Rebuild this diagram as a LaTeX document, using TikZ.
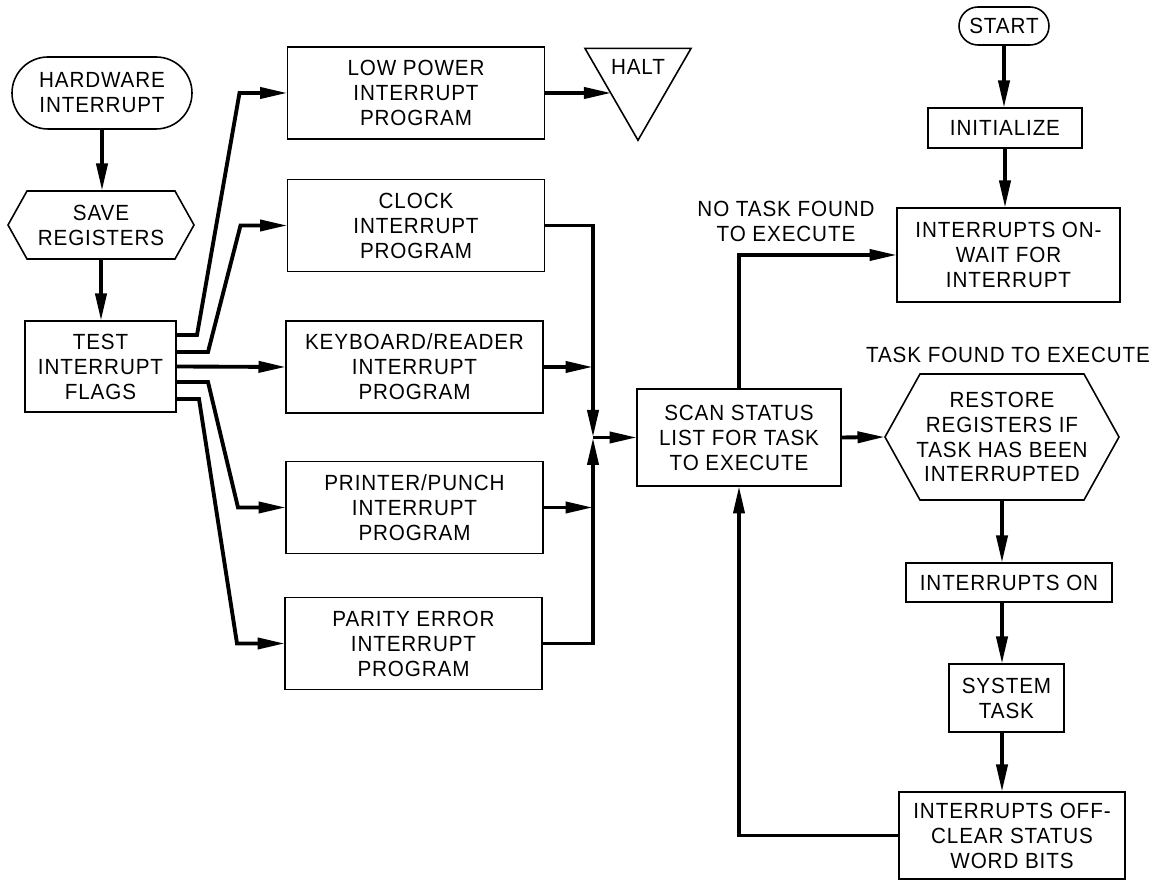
\documentclass[tikz,border=0pt]{standalone}
\usepackage{fontspec}
\setmainfont{Liberation Sans}[LetterSpace=4, FakeStretch=0.94]
\usepackage{tikz}
\usetikzlibrary{shapes.geometric, arrows.meta, positioning}

\newcommand{\chartfont}{\fontsize{12.5}{14.2}\selectfont}

\begin{document}
\begin{tikzpicture}[
    proc/.style={rectangle, draw, line width=0.9pt, align=center, inner sep=0pt, outer sep=0pt, font=\chartfont},
    term/.style={proc},
    prep/.style={rectangle, align=center, inner sep=0pt, outer sep=0pt, font=\chartfont},
    prog/.style={proc, minimum width=5.14cm, minimum height=1.84cm},
    note/.style={align=center, font=\chartfont},
    flow/.style={-{Triangle[length=0.55cm, width=0.22cm]}, line width=2.2pt},
]
\useasboundingbox (0,0) rectangle (23.28,17.64);

% Interrupt entry
\node[term, rounded corners=0.72cm, minimum width=3.6cm, minimum height=1.44cm] (hwint) at (2.04, 15.78) {HARDWARE\\INTERRUPT};
\node[prep, minimum width=3.72cm, minimum height=1.36cm] (savereg) at (2.02, 13.14) {SAVE\\REGISTERS};
\draw[line width=0.9pt] ([xshift=0.38cm]savereg.north west) -- ([xshift=-0.38cm]savereg.north east) -- (savereg.east)
    -- ([xshift=-0.38cm]savereg.south east) -- ([xshift=0.38cm]savereg.south west) -- (savereg.west) -- cycle;
\node[proc, minimum width=3.02cm, minimum height=1.82cm] (testflags) at (2.01, 10.31) {TEST\\INTERRUPT\\FLAGS};

% Interrupt programs
\node[prog] (lowpower) at (8.32, 15.78) {LOW POWER\\INTERRUPT\\PROGRAM};
\node[prog] (clock) at (8.32, 13.13) {CLOCK\\INTERRUPT\\PROGRAM};
\node[prog] (keyread) at (8.29, 10.30) {KEYBOARD/READER\\INTERRUPT\\PROGRAM};
\node[prog] (prtpunch) at (8.29, 7.49) {PRINTER/PUNCH\\INTERRUPT\\PROGRAM};
\node[prog] (parity) at (8.27, 4.77) {PARITY ERROR\\INTERRUPT\\PROGRAM};

% Halt
\node[regular polygon, regular polygon sides=3, shape border rotate=180, draw, line width=0.9pt,
    minimum size=2.45cm, inner sep=0pt, outer sep=0pt] (halt) at (12.76, 16.06) {};
\node[note] (halttext) at ([yshift=0.24cm]halt.center) {HALT};

% Scheduler
\coordinate (merge) at (11.86, 8.89);
\node[proc, minimum width=4.08cm, minimum height=1.94cm] (scan) at (14.78, 8.89) {SCAN STATUS\\LIST FOR TASK\\TO EXECUTE};

% Start-up column
\node[term, rounded corners=0.38cm, minimum width=1.8cm, minimum height=0.76cm] (start) at (20.08, 17.12) {START};
\node[proc, minimum width=3.08cm, minimum height=0.8cm] (init) at (20.10, 15.08) {INITIALIZE};
\node[proc, minimum width=4.46cm, minimum height=1.88cm] (waitint) at (20.17, 12.54) {INTERRUPTS ON-\\WAIT FOR\\INTERRUPT};

% Task column
\node[prep, minimum width=4.68cm, minimum height=2.52cm] (restore) at (20.04, 8.90) {RESTORE\\REGISTERS IF\\TASK HAS BEEN\\INTERRUPTED};
\draw[line width=0.9pt] ([xshift=0.7cm]restore.north west) -- ([xshift=-0.7cm]restore.north east) -- (restore.east)
    -- ([xshift=-0.7cm]restore.south east) -- ([xshift=0.7cm]restore.south west) -- (restore.west) -- cycle;
\node[proc, minimum width=4.12cm, minimum height=0.78cm] (inton) at (20.18, 5.99) {INTERRUPTS ON};
\node[proc, minimum width=2.3cm, minimum height=1.36cm] (systask) at (20.13, 3.68) {SYSTEM\\TASK};
\node[proc, minimum width=4.52cm, minimum height=1.74cm] (intoff) at (20.24, 0.93) {INTERRUPTS OFF-\\CLEAR STATUS\\WORD BITS};

% Branch labels
\node[note] (notask) at (15.72, 13.22) {NO TASK FOUND\\TO EXECUTE};
\node[note] (taskfound) at (20.16, 10.54) {TASK FOUND TO EXECUTE};

% === Entry flow ===
\draw[flow] (hwint.south) -- (hwint.south |- savereg.north);
\draw[flow] (savereg.south) -- (savereg.south |- testflags.north);

% === Fan out to programs ===
\draw[flow] ([yshift=0.63cm]testflags.east) -- ++(0.42,0) -- ([xshift=-0.96cm]lowpower.west) -- (lowpower.west);
\draw[flow] ([yshift=0.29cm]testflags.east) -- ++(0.64,0) -- ([xshift=-0.94cm]clock.west) -- (clock.west);
\draw[flow] (testflags.east) -- (keyread.west);
\draw[flow] ([yshift=-0.31cm]testflags.east) -- ++(0.64,0) -- ([xshift=-0.96cm]prtpunch.west) -- (prtpunch.west);
\draw[flow] ([yshift=-0.65cm]testflags.east) -- ++(0.46,0) -- ([xshift=-0.96cm]parity.west) -- (parity.west);
\draw[flow] (lowpower.east) -- (lowpower.east -| halt.210);

% === Merge into scan ===
\draw[flow] (clock.east) -| (merge);
\draw[flow] (keyread.east) -- (keyread.east -| merge);
\draw[flow] (prtpunch.east) -- (prtpunch.east -| merge);
\draw[flow] (parity.east) -| (merge);
\draw[flow] (merge) -- (scan.west);

% === Right side ===
\draw[flow] (start.south) -- (start.south |- init.north);
\draw[flow] (init.south) -- (init.south |- waitint.north);
\draw[flow] (scan.north) |- (waitint.west);
\draw[flow] (scan.east) -- (restore.west);
\draw[flow] (restore.south) -- (restore.south |- inton.north);
\draw[flow] (restore.south |- inton.south) -- (restore.south |- systask.north);
\draw[flow] (restore.south |- systask.south) -- (restore.south |- intoff.north);
\draw[flow] (intoff.west) -| (scan.south);

\end{tikzpicture}
\end{document}
